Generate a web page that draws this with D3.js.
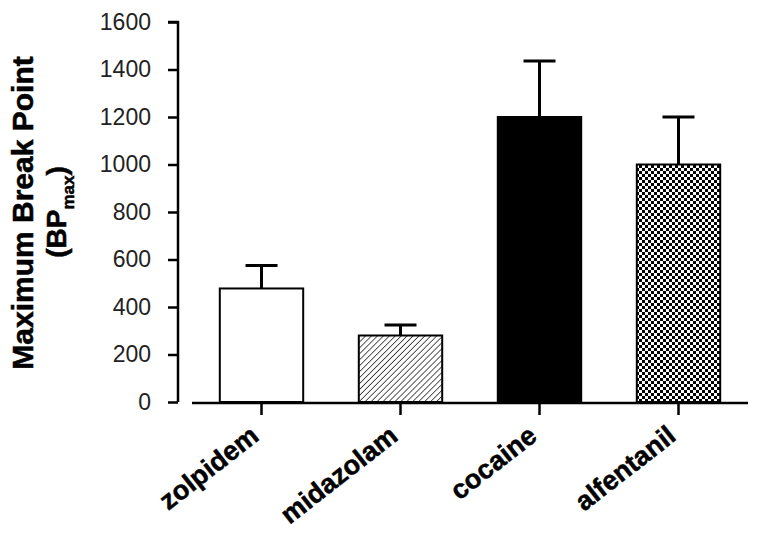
<!DOCTYPE html>
<html><head><meta charset="utf-8">
<script src="https://cdn.jsdelivr.net/npm/d3@7"></script>
<style>html,body{margin:0;padding:0;background:#fff;}svg{display:block;}</style>
</head><body>
<script>
const categories = ["zolpidem", "midazolam", "cocaine", "alfentanil"];
const means = [478, 280, 1200, 1000];
const sems = [97, 44, 236, 200];
const yTicks = [0, 200, 400, 600, 800, 1000, 1200, 1400, 1600];
const fills = ["white", "url(#hatch)", "black", "url(#check)"];

const W = 761, H = 536;
const svg = d3.select("body").append("svg").attr("width", W).attr("height", H);
const defs = svg.append("defs");
const hatch = defs.append("pattern").attr("id", "hatch").attr("patternUnits", "userSpaceOnUse")
  .attr("width", 4.2).attr("height", 4.2).attr("patternTransform", "rotate(45)");
hatch.append("rect").attr("width", 4.2).attr("height", 4.2).attr("fill", "white");
hatch.append("line").attr("x1", 0).attr("y1", 0).attr("x2", 0).attr("y2", 4.2).attr("stroke", "black").attr("stroke-width", 1.3);
const check = defs.append("pattern").attr("id", "check").attr("patternUnits", "userSpaceOnUse")
  .attr("width", 6).attr("height", 6);
check.append("rect").attr("width", 6).attr("height", 6).attr("fill", "white");
check.append("rect").attr("width", 3).attr("height", 3).attr("fill", "black");
check.append("rect").attr("x", 3).attr("y", 3).attr("width", 3).attr("height", 3).attr("fill", "black");

const y = d3.scaleLinear().domain([0, 1600]).range([402, 22]);
const x = d3.scaleBand().domain(categories).range([192, 748]).paddingInner(0.4).paddingOuter(0.2);

// y axis
const yAxis = svg.append("g").attr("transform", "translate(178,0)")
  .call(d3.axisLeft(y).tickValues(yTicks).tickSize(10).tickPadding(17).tickFormat(d3.format("d")));
yAxis.select(".domain").attr("stroke", "black").attr("stroke-width", 2.5).attr("d", `M-10,${y(1600)}H0V${y(0)}`);
yAxis.selectAll(".tick line").attr("stroke", "black").attr("stroke-width", 2.5);
yAxis.selectAll(".tick text").attr("font-family", "Liberation Sans, Arial, sans-serif").attr("font-size", 23).attr("fill", "#222");

// bars
const bars = svg.append("g");
bars.selectAll("rect").data(categories).join("rect")
  .attr("x", d => x(d)).attr("width", x.bandwidth())
  .attr("y", (d, i) => y(means[i])).attr("height", (d, i) => y(0) - y(means[i]))
  .attr("fill", (d, i) => fills[i]).attr("stroke", "black").attr("stroke-width", 2);

// error bars
const eb = svg.append("g").attr("stroke", "black").attr("stroke-width", 3);
categories.forEach((c, i) => {
  const cx = x(c) + x.bandwidth() / 2;
  eb.append("line").attr("x1", cx).attr("x2", cx).attr("y1", y(means[i])).attr("y2", y(means[i] + sems[i]));
  eb.append("line").attr("x1", cx - 16).attr("x2", cx + 16).attr("y1", y(means[i] + sems[i])).attr("y2", y(means[i] + sems[i]));
});

// x axis
const xAxis = svg.append("g").attr("transform", "translate(0,403)")
  .call(d3.axisBottom(x).tickSize(12).tickFormat(""));
xAxis.select(".domain").attr("stroke", "black").attr("stroke-width", 2.5).attr("d", "M192,0H748");
xAxis.selectAll(".tick line").attr("stroke", "black").attr("stroke-width", 2.5);

// x labels
svg.append("g").selectAll("text").data(categories).join("text")
  .attr("transform", d => `translate(${x(d) + x.bandwidth() / 2 - 1},${439}) rotate(-38)`)
  .attr("text-anchor", "end")
  .attr("font-family", "Liberation Sans, Arial, sans-serif").attr("font-weight", "bold").attr("font-size", 27)
  .attr("stroke", "black").attr("stroke-width", 0.5)
  .text(d => d);

// y label
svg.append("text").attr("transform", "translate(33,213) rotate(-90)")
  .attr("text-anchor", "middle").attr("font-family", "Liberation Sans, Arial, sans-serif")
  .attr("font-weight", "bold").attr("font-size", 30).attr("stroke", "black").attr("stroke-width", 0.5)
  .text("Maximum Break Point");
const yl2 = svg.append("text").attr("transform", "translate(66,212) rotate(-90)")
  .attr("text-anchor", "middle").attr("font-family", "Liberation Sans, Arial, sans-serif")
  .attr("font-weight", "bold").attr("font-size", 28).attr("stroke", "black").attr("stroke-width", 0.5);
yl2.append("tspan").text("(BP");
yl2.append("tspan").attr("font-size", 17).attr("dy", 8).text("max");
yl2.append("tspan").attr("dy", -8).text(")");
</script>
</body></html>
